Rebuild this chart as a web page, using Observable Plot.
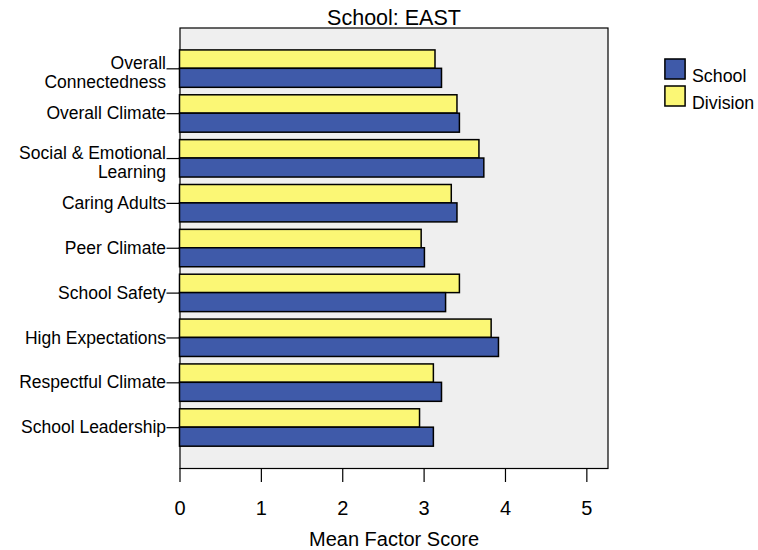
<!DOCTYPE html>
<html>
<head>
<meta charset="utf-8">
<script src="https://cdn.jsdelivr.net/npm/d3@7"></script>
<script src="https://cdn.jsdelivr.net/npm/@observablehq/plot@0.6"></script>
<style>
  html, body { margin: 0; padding: 0; background: white; }
</style>
</head>
<body>
<div id="chart"></div>
<script>
const title = "School: EAST";
const xLabel = "Mean Factor Score";
const categories = ["Overall Connectedness", "Overall Climate", "Social & Emotional Learning", "Caring Adults", "Peer Climate", "School Safety", "High Expectations", "Respectful Climate", "School Leadership"];
const categoryLabels = ["Overall\nConnectedness", "Overall Climate", "Social & Emotional\nLearning", "Caring Adults", "Peer Climate", "School Safety", "High Expectations", "Respectful Climate", "School Leadership"];
const schoolValues = [3.22, 3.44, 3.74, 3.41, 3.01, 3.27, 3.92, 3.22, 3.12];
const divisionValues = [3.14, 3.41, 3.68, 3.34, 2.97, 3.44, 3.83, 3.12, 2.95];
const seriesNames = ["School", "Division"];
const seriesColors = ["#3f5aa9", "#fbf775"];
const xTicks = [0, 1, 2, 3, 4, 5];

const W = 758, H = 550;
const mt = 27.5, mb = 82, ml = 179.5, mr = 150.5;
const padOuter = 0.41;
const step = (H - mt - mb) / (categories.length + 2 * padOuter);
const half = step / 2;

const schoolRows = categories.map((c, i) => ({category: c, value: schoolValues[i]}));
const divisionRows = categories.map((c, i) => ({category: c, value: divisionValues[i]}));
const labelOf = new Map(categories.map((c, i) => [c, categoryLabels[i]]));
const singles = categories.filter(c => !labelOf.get(c).includes("\n"));
const doubles = categories.filter(c => labelOf.get(c).includes("\n"));

const font = "'Liberation Sans', Arial, Helvetica, sans-serif";

const legendMarks = seriesNames.flatMap((name, i) => [
  Plot.dot([name], {frameAnchor: "top-right", dx: 67, dy: 41 + i * 27, symbol: "square", r: 11.4, fill: seriesColors[i], stroke: "black", strokeWidth: 1.5}),
  Plot.text([name], {text: d => d, frameAnchor: "top-right", dx: 84, dy: 41 + i * 27, textAnchor: "start", fontSize: 17.8, fill: "black"})
]);

const chart = Plot.plot({
  width: W,
  height: H,
  marginTop: mt,
  marginBottom: mb,
  marginLeft: ml,
  marginRight: mr,
  style: {fontFamily: font, background: "white", color: "black", overflow: "visible"},
  x: {domain: [0, 5.26], ticks: xTicks, tickFormat: "d"},
  y: {domain: categories, paddingInner: 0, paddingOuter: padOuter, round: false, axis: null},
  marks: [
    Plot.frame({fill: "#efefef", stroke: "black", strokeWidth: 1.2}),
    Plot.barX(divisionRows, {y: "category", x: "value", fill: seriesColors[1], stroke: "black", strokeWidth: 1.5, insetTop: half - 18.4, insetBottom: half}),
    Plot.barX(schoolRows, {y: "category", x: "value", fill: seriesColors[0], stroke: "black", strokeWidth: 1.5, insetTop: half, insetBottom: half - 19}),
    Plot.axisX({ticks: xTicks, tickFormat: "d", tickSize: 14, tickPadding: 18, fontSize: 20, label: null, stroke: "black", strokeWidth: 1.2}),
    Plot.axisY({tickSize: 13, tickFormat: () => "", label: null, stroke: "black", strokeWidth: 1.2}),
    Plot.text(singles, {y: d => d, text: d => labelOf.get(d), frameAnchor: "left", textAnchor: "end", dx: -14, fontSize: 17.5, fill: "black"}),
    Plot.text(doubles, {y: d => d, text: d => labelOf.get(d), frameAnchor: "left", textAnchor: "end", dx: -14, dy: 4, lineHeight: 1.07, fontSize: 17.5, fill: "black"}),
    Plot.text([title], {text: d => d, frameAnchor: "top", lineAnchor: "top", dy: -18, fontSize: 21.5, fill: "black"}),
    Plot.text([xLabel], {text: d => d, frameAnchor: "bottom", lineAnchor: "top", dy: 63.5, fontSize: 20, fill: "black"}),
    ...legendMarks
  ]
});
document.getElementById("chart").appendChild(chart);
</script>
</body>
</html>
